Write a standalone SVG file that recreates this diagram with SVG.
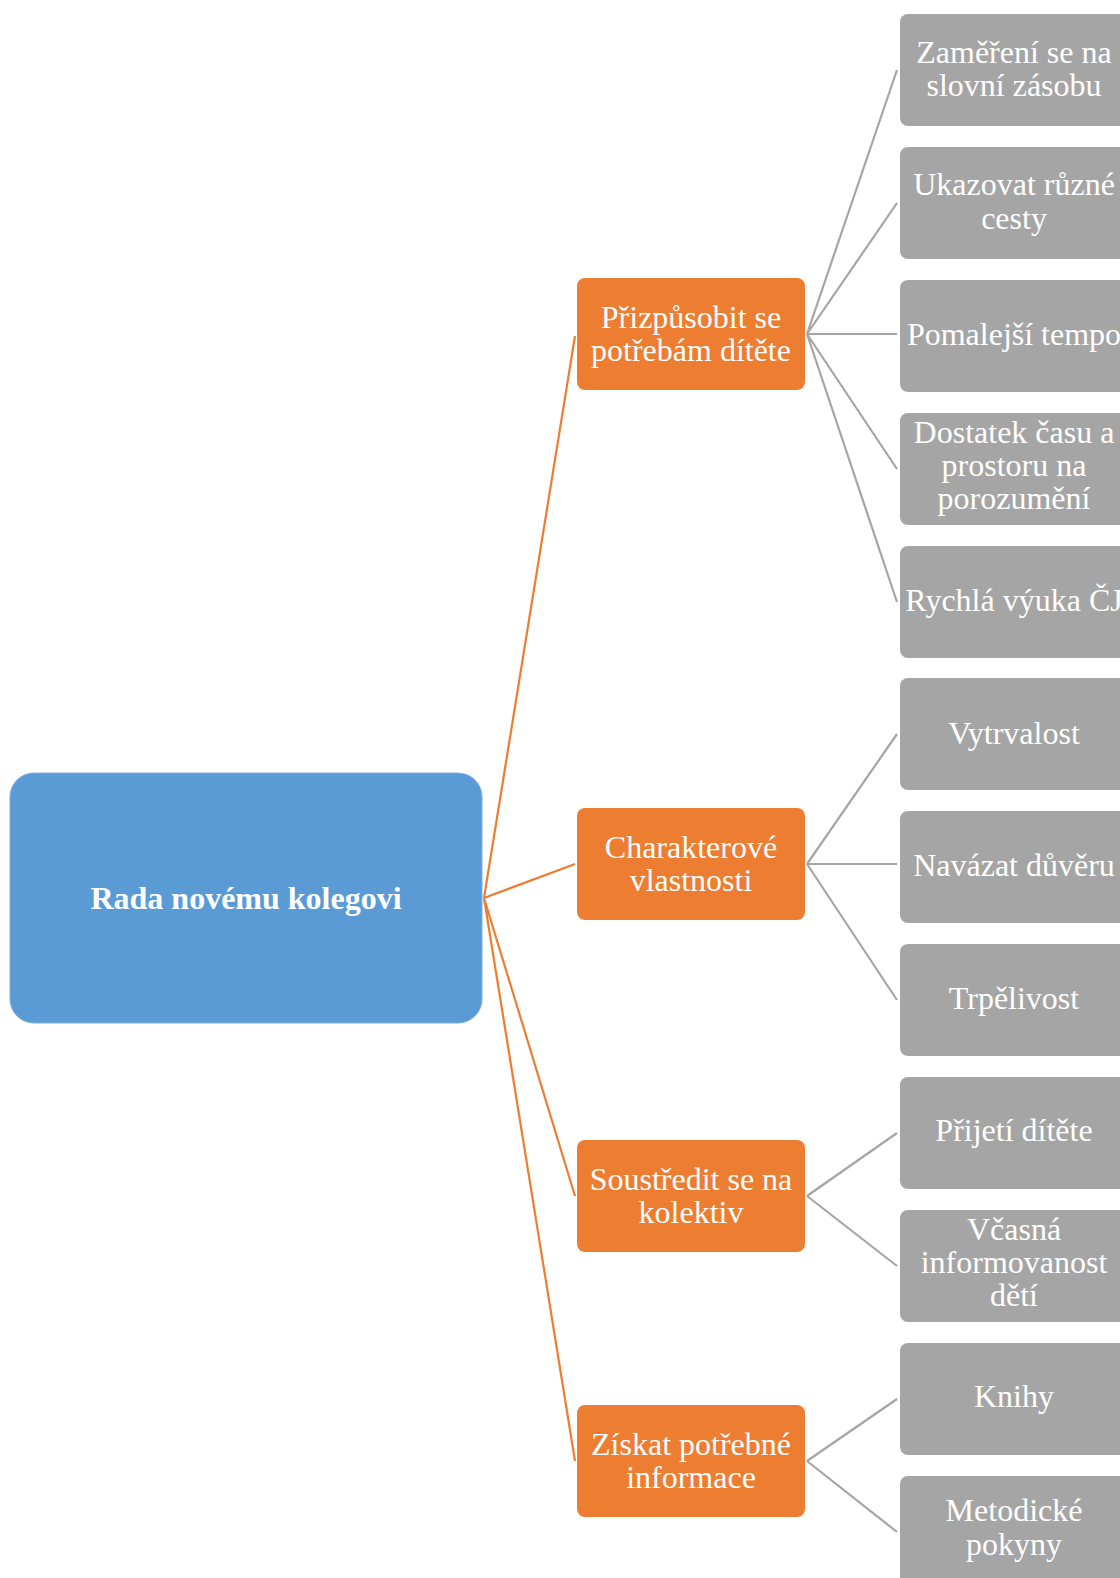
<svg xmlns="http://www.w3.org/2000/svg" width="1120" height="1578" viewBox="0 0 1120 1578">
<style>
.t{font-family:"Liberation Serif","Times New Roman",serif;fill:#fff;text-anchor:middle;font-size:32px}
.root{font-weight:bold;font-size:32px}
.o{fill:#ED7D31}
.g{fill:#A5A5A5}
.oc{stroke:#ED7D31;stroke-width:2.2;fill:none}
.gc{stroke:#A5A5A5;stroke-width:2.2;fill:none}
</style>
<rect width="1120" height="1578" fill="#fff"/>
<g id="connectors">
<path class="oc" d="M484 898L575 336M484 898L575 864M484 898L575 1196M484 898L575 1461"/>
<path class="gc" d="M807 334L897 70M807 334L897 203M807 334L897 334M807 334L897 469M807 334L897 602"/>
<path class="gc" d="M807 864L897 734M807 864L897 864M807 864L897 1000"/>
<path class="gc" d="M807 1196L897 1133M807 1196L897 1266"/>
<path class="gc" d="M807 1461L897 1399M807 1461L897 1532"/>
</g>
<g id="root"><rect x="10" y="773" width="472" height="250" rx="24" fill="#5B9BD5" stroke="#7DAEDD" stroke-width="1"/><text class="t root" x="246" y="909">Rada novému kolegovi</text></g>
<g id="o1"><rect class="o" x="577" y="278" width="228" height="112" rx="8"/><text class="t" x="691" y="328">Přizpůsobit se</text><text class="t" x="691" y="361">potřebám dítěte</text></g>
<g id="o2"><rect class="o" x="577" y="808" width="228" height="112" rx="8"/><text class="t" x="691" y="858">Charakterové</text><text class="t" x="691" y="891">vlastnosti</text></g>
<g id="o3"><rect class="o" x="577" y="1140" width="228" height="112" rx="8"/><text class="t" x="691" y="1190">Soustředit se na</text><text class="t" x="691" y="1223">kolektiv</text></g>
<g id="o4"><rect class="o" x="577" y="1405" width="228" height="112" rx="8"/><text class="t" x="691" y="1455">Získat potřebné</text><text class="t" x="691" y="1488">informace</text></g>
<g id="g1"><rect class="g" x="900" y="14" width="232" height="112" rx="8"/><text class="t" x="1014" y="63">Zaměření se na</text><text class="t" x="1014" y="96">slovní zásobu</text></g>
<g id="g2"><rect class="g" x="900" y="147" width="232" height="112" rx="8"/><text class="t" x="1014" y="195">Ukazovat různé</text><text class="t" x="1014" y="229">cesty</text></g>
<g id="g3"><rect class="g" x="900" y="280" width="232" height="112" rx="8"/><text class="t" x="1014" y="345">Pomalejší tempo</text></g>
<g id="g4"><rect class="g" x="900" y="413" width="232" height="112" rx="8"/><text class="t" x="1014" y="443">Dostatek času a</text><text class="t" x="1014" y="476">prostoru na</text><text class="t" x="1014" y="509">porozumění</text></g>
<g id="g5"><rect class="g" x="900" y="546" width="232" height="112" rx="8"/><text class="t" x="1014" y="611">Rychlá výuka ČJ</text></g>
<g id="g6"><rect class="g" x="900" y="678" width="232" height="112" rx="8"/><text class="t" x="1014" y="744">Vytrvalost</text></g>
<g id="g7"><rect class="g" x="900" y="811" width="232" height="112" rx="8"/><text class="t" x="1014" y="876">Navázat důvěru</text></g>
<g id="g8"><rect class="g" x="900" y="944" width="232" height="112" rx="8"/><text class="t" x="1014" y="1009">Trpělivost</text></g>
<g id="g9"><rect class="g" x="900" y="1077" width="232" height="112" rx="8"/><text class="t" x="1014" y="1141">Přijetí dítěte</text></g>
<g id="g10"><rect class="g" x="900" y="1210" width="232" height="112" rx="8"/><text class="t" x="1014" y="1240">Včasná</text><text class="t" x="1014" y="1273">informovanost</text><text class="t" x="1014" y="1306">dětí</text></g>
<g id="g11"><rect class="g" x="900" y="1343" width="232" height="112" rx="8"/><text class="t" x="1014" y="1407">Knihy</text></g>
<g id="g12"><rect class="g" x="900" y="1476" width="232" height="112" rx="8"/><text class="t" x="1014" y="1521">Metodické</text><text class="t" x="1014" y="1555">pokyny</text></g>
</svg>
